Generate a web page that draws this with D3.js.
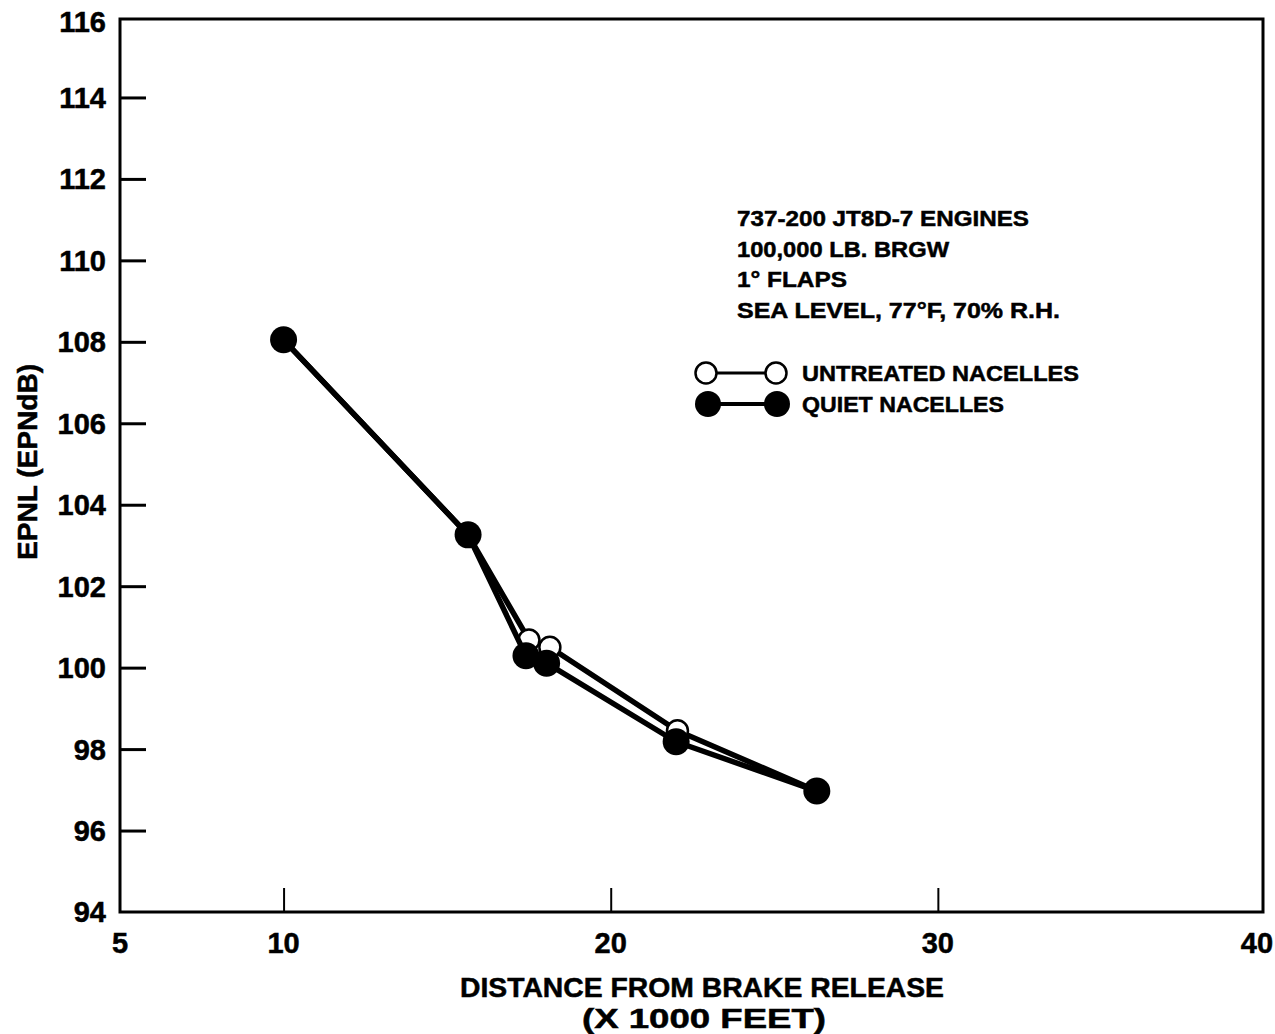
<!DOCTYPE html>
<html>
<head>
<meta charset="utf-8">
<script src="https://cdn.jsdelivr.net/npm/d3@7"></script>
<style>
html,body{margin:0;padding:0;background:#fff;}
svg{display:block;font-family:"Liberation Sans",Arial,sans-serif;font-weight:bold;}
svg text{stroke:#000;stroke-width:0.5px;fill:#000;}
</style>
</head>
<body>
<svg id="chart" width="1275" height="1034"></svg>
<script>
// ---- data ----
const untreatedX = [10.0, 15.64, 17.5, 18.14, 22.04, 26.3];
const untreatedY = [108.05, 103.26, 100.68, 100.5, 98.45, 96.97];
const quietX = [10.0, 15.64, 17.41, 18.04, 22.0, 26.3];
const quietY = [108.05, 103.26, 100.29, 100.11, 98.18, 96.97];
const xTicks = [5, 10, 20, 30, 40];
const yTicks = [94, 96, 98, 100, 102, 104, 106, 108, 110, 112, 114, 116];
const notes = ["737-200 JT8D-7 ENGINES", "100,000 LB. BRGW", "1\u00B0 FLAPS", "SEA LEVEL, 77\u00B0F, 70% R.H."];
const legendNames = ["UNTREATED NACELLES", "QUIET NACELLES"];
const xTitle = ["DISTANCE FROM BRAKE RELEASE", "(X 1000 FEET)"];
const yTitle = "EPNL (EPNdB)";

const svg = d3.select("#chart");
const L = 120, R = 1265, T = 16, B = 912;
const x = d3.scaleLinear().domain([5, 40]).range([L, R]);
const y = d3.scaleLinear().domain([94, 116]).range([B, T]);

// frame
svg.append("path")
  .attr("d", `M${L},${B} L${L},19 L1263,19 L1263,${B} Z`)
  .attr("fill", "none").attr("stroke", "#000").attr("stroke-width", 3);

// y axis ticks (inward)
const yAxis = d3.axisRight(y).tickValues(yTicks.filter(v => v > 94 && v < 116)).tickSize(26).tickFormat("");
const yg = svg.append("g").attr("transform", `translate(${L},0)`).call(yAxis);
yg.select(".domain").remove();
yg.selectAll(".tick line").attr("stroke", "#000").attr("stroke-width", 3);

// y tick labels
svg.append("g").selectAll("text").data(yTicks).join("text")
  .attr("x", 106).attr("y", d => d === 116 ? 22 : y(d))
  .attr("dy", "0.36em").attr("text-anchor", "end")
  .attr("font-size", 29).text(d => d);

// x ticks (upward)
const xAxis = d3.axisTop(x).tickValues(xTicks.filter(v => v > 5 && v < 40)).tickSize(24).tickFormat("");
const xg = svg.append("g").attr("transform", `translate(0,${B})`).call(xAxis);
xg.select(".domain").remove();
xg.selectAll(".tick line").attr("stroke", "#000").attr("stroke-width", 2);

// x tick labels
svg.append("g").selectAll("text").data(xTicks).join("text")
  .attr("x", d => d === 40 ? x(d) - 8 : x(d)).attr("y", 953)
  .attr("text-anchor", "middle").attr("font-size", 29).text(d => d);

// axis titles
svg.append("text").attr("x", 702).attr("y", 997).attr("text-anchor", "middle")
  .attr("font-size", 27).attr("textLength", 484).attr("lengthAdjust", "spacingAndGlyphs").text(xTitle[0]);
svg.append("text").attr("x", 704).attr("y", 1028).attr("text-anchor", "middle")
  .attr("font-size", 27).attr("textLength", 244).attr("lengthAdjust", "spacingAndGlyphs").text(xTitle[1]);
svg.append("text").attr("transform", "translate(37,462) rotate(-90)").attr("text-anchor", "middle")
  .attr("font-size", 27).attr("textLength", 196).attr("lengthAdjust", "spacingAndGlyphs").text(yTitle);

// series
const line = d3.line().x(d => x(d[0])).y(d => y(d[1]));
const uData = untreatedX.map((v, i) => [v, untreatedY[i]]);
const qData = quietX.map((v, i) => [v, quietY[i]]);

svg.append("path").datum(uData).attr("d", line)
  .attr("fill", "none").attr("stroke", "#000").attr("stroke-width", 5.5).attr("stroke-linejoin", "round");
svg.append("g").selectAll("circle").data(uData).join("circle")
  .attr("cx", d => x(d[0])).attr("cy", d => y(d[1])).attr("r", 10.5)
  .attr("fill", "#fff").attr("stroke", "#000").attr("stroke-width", 2.5);

svg.append("path").datum(qData).attr("d", line)
  .attr("fill", "none").attr("stroke", "#000").attr("stroke-width", 5.5).attr("stroke-linejoin", "round");
svg.append("g").selectAll("circle").data(qData).join("circle")
  .attr("cx", d => x(d[0])).attr("cy", d => y(d[1])).attr("r", 13.5)
  .attr("fill", "#000");

// notes
const noteLens = [292, 212, 110, 323];
svg.append("g").selectAll("text").data(notes).join("text")
  .attr("x", 737).attr("y", (d, i) => 226 + i * 30.7)
  .attr("font-size", 22).attr("textLength", (d, i) => noteLens[i]).attr("lengthAdjust", "spacingAndGlyphs")
  .text(d => d);

// legend
const lg = svg.append("g");
const legY = [373, 404];
lg.append("line").attr("x1", 706).attr("x2", 776).attr("y1", legY[0]).attr("y2", legY[0]).attr("stroke", "#000").attr("stroke-width", 3);
lg.append("line").attr("x1", 708).attr("x2", 777).attr("y1", legY[1]).attr("y2", legY[1]).attr("stroke", "#000").attr("stroke-width", 4);
[706, 776].forEach(cx => lg.append("circle").attr("cx", cx).attr("cy", legY[0]).attr("r", 10.5).attr("fill", "#fff").attr("stroke", "#000").attr("stroke-width", 2.5));
[708, 777].forEach(cx => lg.append("circle").attr("cx", cx).attr("cy", legY[1]).attr("r", 13).attr("fill", "#000"));
const legLens = [277, 202];
lg.selectAll("text").data(legendNames).join("text")
  .attr("x", 802).attr("y", (d, i) => legY[i] + 8)
  .attr("font-size", 22).attr("textLength", (d, i) => legLens[i]).attr("lengthAdjust", "spacingAndGlyphs")
  .text(d => d);
</script>
</body>
</html>
